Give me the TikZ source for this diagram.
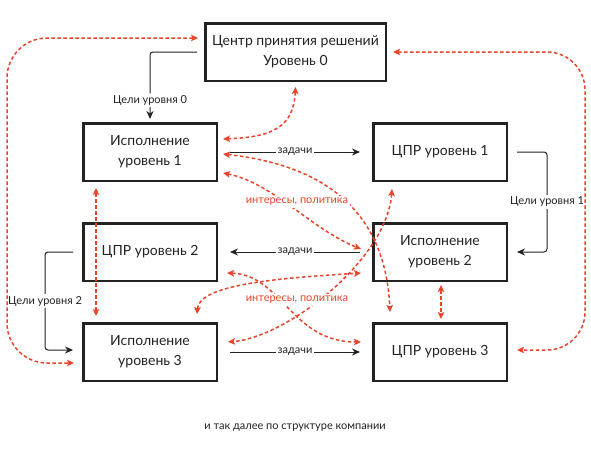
\documentclass[tikz,border=0pt]{standalone}
\usepackage{fontspec}
\setmainfont{Lato}
\usetikzlibrary{arrows.meta}
\definecolor{linkred}{RGB}{232,68,42}
\definecolor{ink}{RGB}{34,34,34}

\begin{document}
\begin{tikzpicture}[x=1pt, y=-1pt, line cap=butt,
        box/.style={draw=ink, text=ink, line width=2.5pt, minimum width=133.5pt, minimum height=57.5pt,
            align=center, font=\fontsize{14}{20}\selectfont},
        tag/.style={fill=white, text=ink, inner sep=2pt, font=\fontsize{11}{12}\selectfont},
        task/.style={-{Stealth[length=8pt,width=7pt]}, ink, line width=1pt, shorten <=12pt, shorten >=12pt},
        goal/.style={-{Stealth[length=8pt,width=7pt]}, ink, line width=1pt, rounded corners=3pt},
        link/.style={{Stealth[length=7pt,width=6.5pt,inset=1.5pt]}-{Stealth[length=7pt,width=6.5pt,inset=1.5pt]},
            linkred, line width=1.5pt, dash pattern=on 3.5pt off 2.5pt}]
        \useasboundingbox (0,0) rectangle (591,455);
        % boxes
        \node[box, minimum width=180.5pt] (lvl0) at (295.5,52) {Центр принятия решений\\Уровень 0};
        \node[box] (isp1) at (150,152) {Исполнение\\уровень 1};
        \node[box] (cpr1) at (440,152) {ЦПР уровень 1};
        \node[box] (cpr2) at (150,252) {ЦПР уровень 2};
        \node[box] (isp2) at (440,252) {Исполнение\\уровень 2};
        \node[box] (isp3) at (150,352) {Исполнение\\уровень 3};
        \node[box] (cpr3) at (440,352) {ЦПР уровень 3};
        % black connectors
        \foreach\s/\t in {isp1/cpr1, isp2/cpr2, isp3/cpr3}
            \draw[task] (\s) -- node[tag] {задачи} (\t);
        \draw[goal] ([shift={(-7,0)}]lvl0.west) -| node[tag, pos=0.86] {Цели уровня 0} ([shift={(0,-3)}]isp1.north);
        \draw[goal] ([shift={(9,0)}]cpr1.east) -- ++(30,0) |- node[tag, pos=0.25] {Цели уровня 1} ([shift={(9,0)}]isp2.east);
        \draw[goal] ([shift={(-9,0)}]cpr2.west) -- ++(-28,0) |- node[tag, pos=0.25] {Цели уровня 2} ([shift={(-9,-2)}]isp3.west);
        % red links
        \draw[link, rounded corners=40pt] ([shift={(-6,-14)}]lvl0.west) -| (7,200) |- ([shift={(-8,11)}]isp3.west);
        \draw[link, rounded corners=38pt] ([shift={(6,0)}]lvl0.east) -| (585,200) |- ([shift={(9,-2)}]cpr3.east);
        \draw[link] ([shift={(0,5)}]lvl0.south) .. controls +(-2,40) and +(50,-2) .. ([shift={(5,-13)}]isp1.east);
        \draw[link] ([shift={(5,2)}]isp1.east) .. controls +(90,10) and +(-5,-110) .. ([shift={(-50,-10)}]cpr3.north);
        \draw[link] ([shift={(5,21)}]isp1.east) .. controls +(50,10) and +(-50,-20) .. ([shift={(-11,-3)}]isp2.west);
        \draw[link] ([shift={(-48,7)}]cpr1.south) .. controls +(-5,70) and +(60,-5) .. ([shift={(10,-10)}]isp3.east);
        \draw[link] ([shift={(9,21)}]cpr2.east) .. controls +(55,2) and +(-70,0) .. ([shift={(-11,-10)}]cpr3.west);
        \draw[link] ([shift={(47,-8)}]isp3.north) .. controls +(2,-30) and +(-80,5) .. ([shift={(-11,21)}]isp2.west);
        \draw[link] ([shift={(-54,6)}]isp1.south) -- ([shift={(-54,-6)}]isp3.north);
        \draw[link] ([shift={(1,3)}]isp2.south) -- ([shift={(1,-3)}]cpr3.north);
        % texts
        \node[tag, text=linkred] (int1) at (297,202) {интересы, политика};
        \node[tag, text=linkred] (int2) at (297,300) {интересы, политика};
        \node[tag] (etc) at (295,428) {и так далее по структуре компании};
\end{tikzpicture}
\end{document}
